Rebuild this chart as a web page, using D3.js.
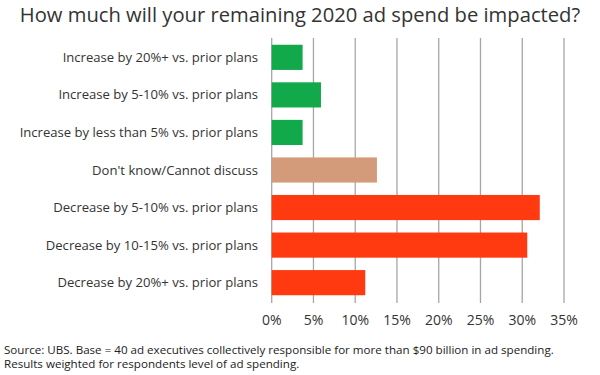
<!DOCTYPE html>
<html><head><meta charset="utf-8">
<script src="https://cdn.jsdelivr.net/npm/d3@7/dist/d3.min.js"></script>
<style>body{margin:0;background:#fff}svg{display:block}text{font-family:"Open Sans",sans-serif}</style>
</head><body><svg id="c" width="600" height="375"></svg>
<script>
const categories = [
  "Increase by 20%+ vs. prior plans",
  "Increase by 5-10% vs. prior plans",
  "Increase by less than 5% vs. prior plans",
  "Don't know/Cannot discuss",
  "Decrease by 5-10% vs. prior plans",
  "Decrease by 10-15% vs. prior plans",
  "Decrease by 20%+ vs. prior plans"
];
const values = [3.7, 5.9, 3.7, 12.6, 32.1, 30.6, 11.2];
const groups = ["up", "up", "up", "unknown", "down", "down", "down"];
const tickValues = [0, 5, 10, 15, 20, 25, 30, 35];
const title = "How much will your remaining 2020 ad spend be impacted?";
const sourceLines = [
  "Source: UBS. Base = 40 ad executives collectively responsible for more than $90 billion in ad spending.",
  "Results weighted for respondents level of ad spending."
];

const colorMap = {up: "#12a94a", unknown: "#d39b7a", down: "#ff3a10"};
const svg = d3.select("#c");
const x = d3.scaleLinear().domain([0, 35]).range([271.7, 564]);
const y = d3.scaleBand().domain(categories).range([38, 302]).paddingInner(0.33).paddingOuter(0.18);

svg.append("text").attr("x", 300).attr("y", 22).attr("text-anchor", "middle")
  .attr("font-size", 20.2).attr("fill", "#333").text(title);

// gridlines
svg.append("g").selectAll("line").data(tickValues).join("line")
  .attr("x1", d => x(d)).attr("x2", d => x(d)).attr("y1", 38).attr("y2", 303)
  .attr("stroke", "#a6a6a6").attr("stroke-width", 1.3);

// bars
svg.append("g").selectAll("rect").data(values).join("rect")
  .attr("x", x(0)).attr("y", (d, i) => y(categories[i]))
  .attr("width", d => x(d) - x(0)).attr("height", y.bandwidth())
  .attr("fill", (d, i) => colorMap[groups[i]]);

// category labels
svg.append("g").selectAll("text").data(categories).join("text")
  .attr("x", 258).attr("y", d => y(d) + y.bandwidth() / 2).attr("dy", "0.35em")
  .attr("text-anchor", "end").attr("font-size", 13.1).attr("fill", "#333").text(d => d);

// x tick labels
svg.append("g").selectAll("text").data(tickValues).join("text")
  .attr("x", d => x(d)).attr("y", 320).attr("dy", "0.35em").attr("text-anchor", "middle")
  .attr("font-size", 14).attr("fill", "#333").text(d => d + "%");

svg.append("g").selectAll("text").data(sourceLines).join("text")
  .attr("x", 4).attr("y", (d, i) => 354 + i * 13.5)
  .attr("font-size", 11.6).attr("fill", "#222").text(d => d);
</script></body></html>
